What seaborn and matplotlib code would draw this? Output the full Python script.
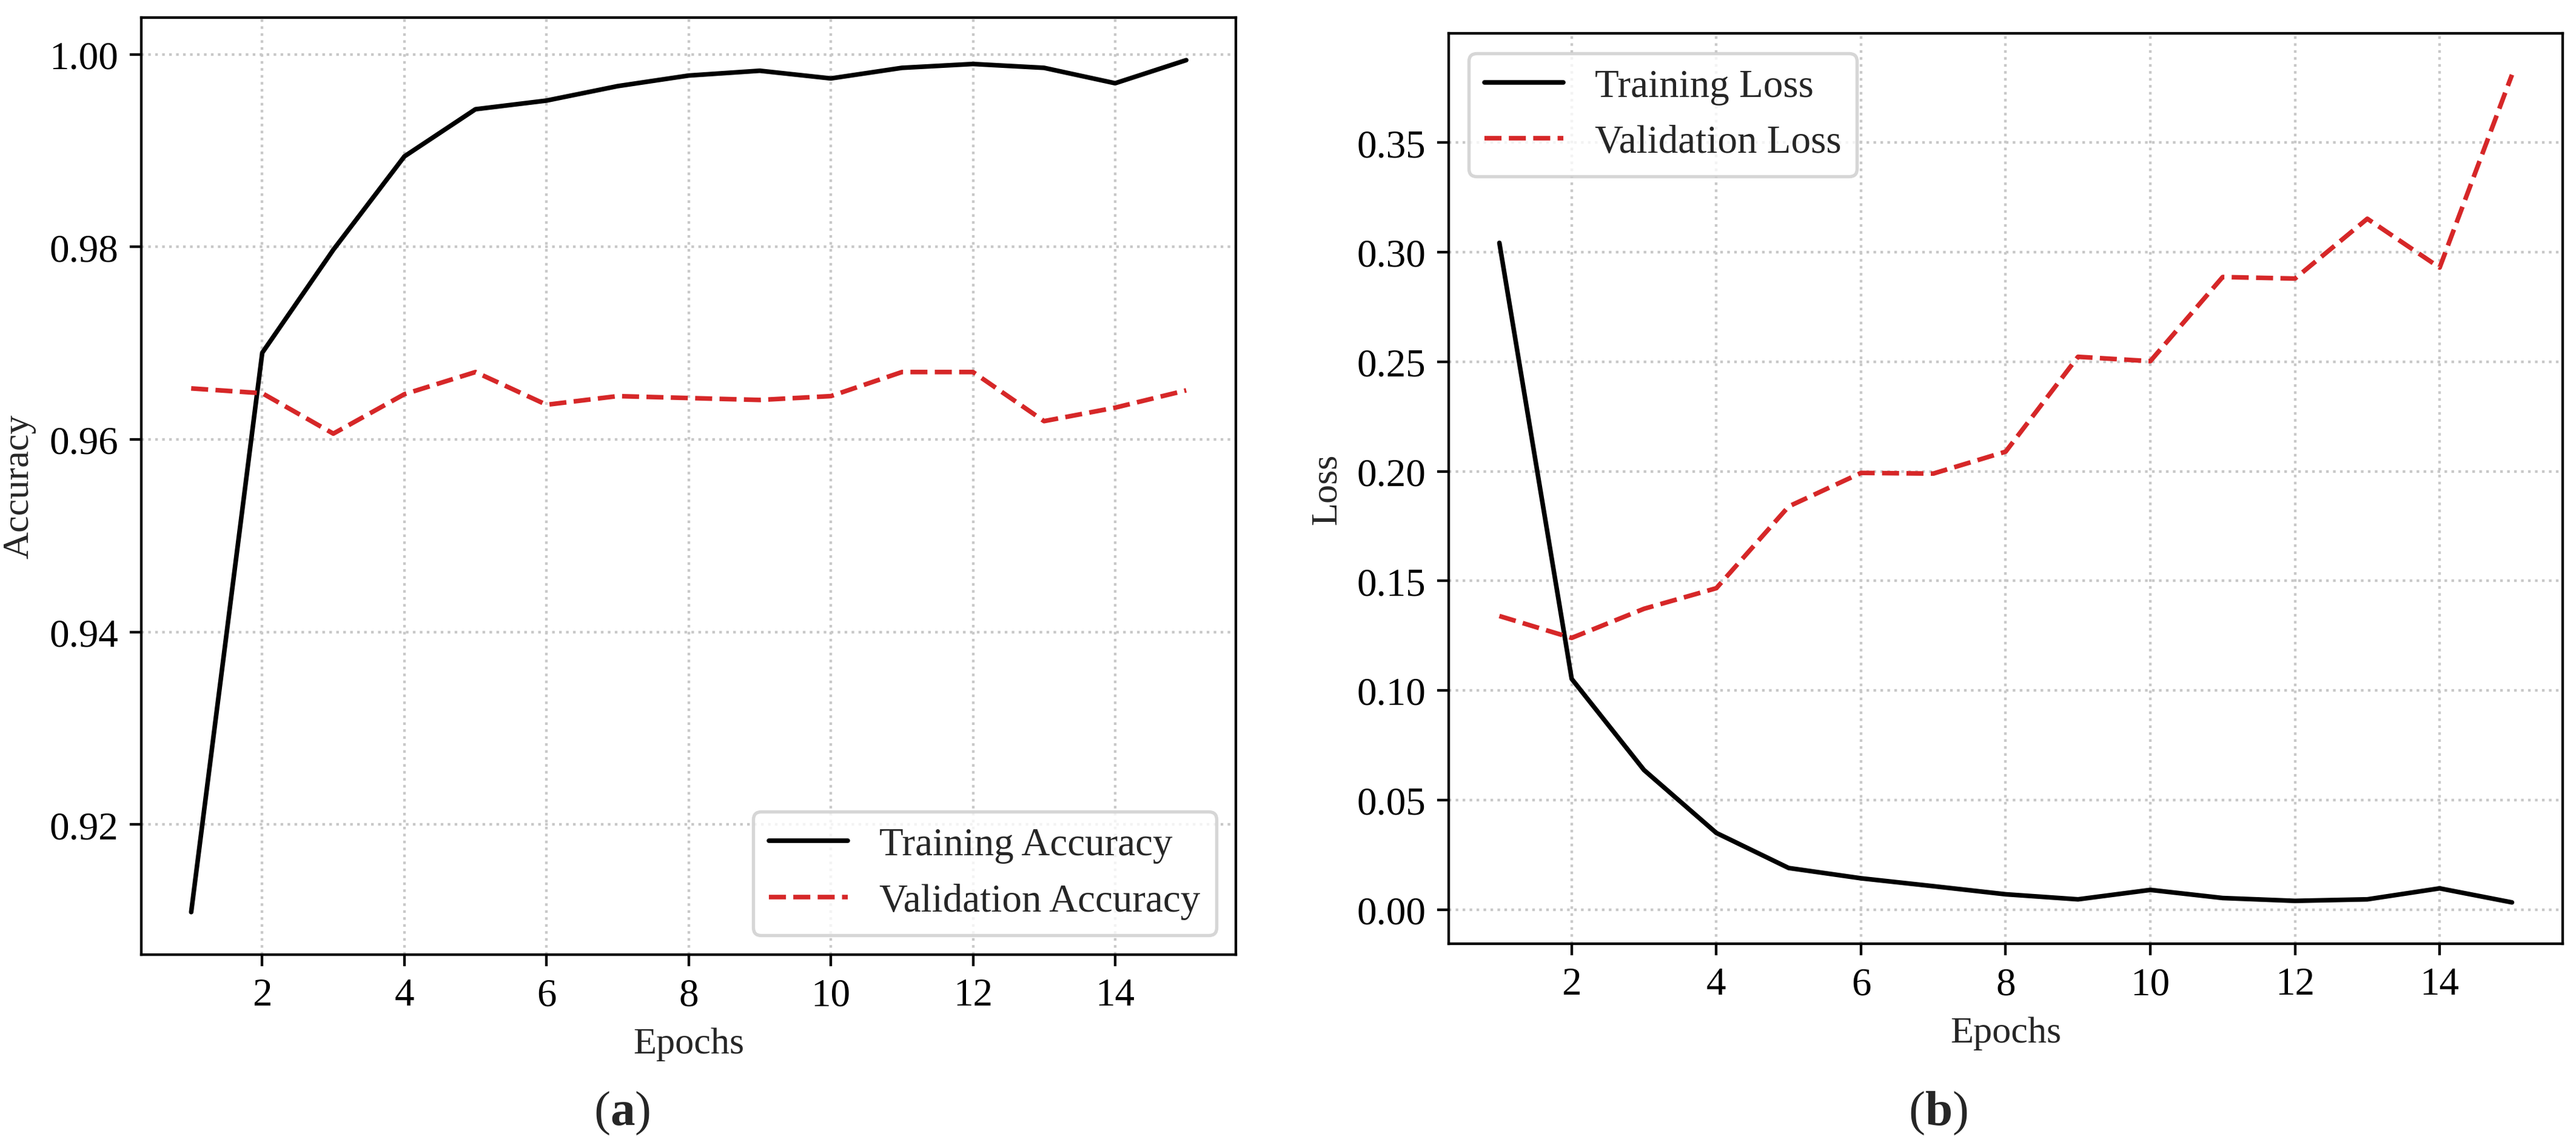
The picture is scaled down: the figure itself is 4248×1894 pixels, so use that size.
import numpy as np
import pandas as pd
import matplotlib
matplotlib.use("Agg")
import matplotlib.pyplot as plt
import seaborn as sns

# ---- data ----
epochs = list(range(1, 16))
train_acc = [0.9109, 0.9690, 0.9797, 0.9894, 0.9943, 0.9952, 0.9967, 0.9978,
             0.9983, 0.9975, 0.9986, 0.9990, 0.9986, 0.9970, 0.9994]
val_acc = [0.9653, 0.9648, 0.9606, 0.9647, 0.9670, 0.9636, 0.9645, 0.9643,
           0.9641, 0.9645, 0.9670, 0.9670, 0.9619, 0.9633, 0.9651]
train_loss = [0.3043, 0.1053, 0.0637, 0.0350, 0.0190, 0.0143, 0.0107, 0.0070,
              0.0047, 0.0090, 0.0053, 0.0040, 0.0047, 0.0097, 0.0033]
val_loss = [0.1340, 0.1240, 0.1373, 0.1467, 0.1840, 0.1993, 0.1990, 0.2090,
            0.2523, 0.2503, 0.2887, 0.2880, 0.3153, 0.2930, 0.3810]
acc_labels = ["Training Accuracy", "Validation Accuracy"]
loss_labels = ["Training Loss", "Validation Loss"]
x_label = "Epochs"
y_labels = ["Accuracy", "Loss"]
panel_tags = ["a", "b"]
xticks = [2, 4, 6, 8, 10, 12, 14]

sns.set_theme(style="ticks")
plt.rcParams.update({
    "font.family": ["Liberation Serif", "DejaVu Serif"],
    "mathtext.fontset": "custom",
    "mathtext.rm": "Liberation Serif",
    "mathtext.bf": "Liberation Serif:bold",
    "axes.edgecolor": "black",
    "axes.linewidth": 0.8,
    "xtick.color": "black",
    "ytick.color": "black",
    "xtick.major.size": 3.5,
    "ytick.major.size": 3.5,
    "xtick.major.width": 0.8,
    "ytick.major.width": 0.8,
    "xtick.labelsize": 12,
    "ytick.labelsize": 12,
    "axes.labelsize": 11.5,
    "legend.fontsize": 12,
})

DPI = 390
fig = plt.figure(figsize=(4248 / DPI, 1895 / DPI), dpi=DPI)
ax1 = fig.add_axes([0.0549, 0.1683, 0.4249, 0.8159])
ax2 = fig.add_axes([0.5624, 0.1778, 0.4324, 0.7926])

red = "#d62728"

def panel(ax, tr, va, labels, ylab, loc):
    sns.lineplot(x=epochs, y=tr, ax=ax, color="black", linewidth=1.4,
                 label=labels[0])
    sns.lineplot(x=epochs, y=va, ax=ax, color=red, linewidth=1.4,
                 linestyle="--", label=labels[1])
    ax.set_xticks(xticks)
    ax.set_xlabel(x_label)
    ax.set_ylabel(ylab)
    ax.grid(True, linestyle=":", color="#c8c8c8", linewidth=0.8)
    for s in ax.spines.values():
        s.set_visible(True)
        s.set_color("black")
    ax.legend(loc=loc, fancybox=True, framealpha=0.8, edgecolor="#cccccc")

panel(ax1, train_acc, val_acc, acc_labels, y_labels[0], "lower right")
ax1.yaxis.set_major_formatter(matplotlib.ticker.FormatStrFormatter("%.2f"))
panel(ax2, train_loss, val_loss, loss_labels, y_labels[1], "upper left")
ax2.yaxis.set_major_formatter(matplotlib.ticker.FormatStrFormatter("%.2f"))

fig.text(1026 / 4248, 1 - 1837 / 1895, r"($\mathbf{%s}$)" % panel_tags[0],
         ha="center", va="center", fontsize=15)
fig.text(3196 / 4248, 1 - 1837 / 1895, r"($\mathbf{%s}$)" % panel_tags[1],
         ha="center", va="center", fontsize=15)

fig.savefig("out.png", dpi=DPI)
